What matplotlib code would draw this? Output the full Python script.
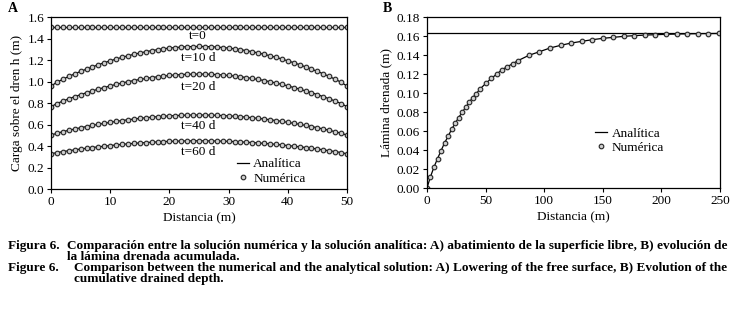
import numpy as np
import matplotlib
matplotlib.use("Agg")
import matplotlib.pyplot as plt

plt.rcParams['font.family'] = ['Liberation Serif', 'DejaVu Serif']

# ===================================
# 1. Datos panel A (carga sobre el dren)
# ===================================
dist_a = list(range(0, 51))

h_t0 = [1.503] * 51

h_t10 = [0.958, 0.993, 1.021, 1.047, 1.071, 1.094, 1.115, 1.136, 1.156, 1.175,
         1.192, 1.209, 1.225, 1.239, 1.253, 1.265, 1.277, 1.287, 1.296, 1.304,
         1.311, 1.316, 1.320, 1.324, 1.325, 1.326, 1.325, 1.324, 1.320, 1.316,
         1.311, 1.304, 1.296, 1.287, 1.277, 1.265, 1.253, 1.239, 1.225, 1.209,
         1.192, 1.175, 1.156, 1.136, 1.115, 1.094, 1.071, 1.047, 1.021, 0.993,
         0.958]

h_t20 = [0.766, 0.795, 0.818, 0.839, 0.859, 0.878, 0.896, 0.913, 0.929, 0.944,
         0.959, 0.973, 0.986, 0.998, 1.009, 1.019, 1.028, 1.037, 1.044, 1.051,
         1.056, 1.061, 1.064, 1.067, 1.068, 1.069, 1.068, 1.067, 1.064, 1.061,
         1.056, 1.051, 1.044, 1.037, 1.028, 1.019, 1.009, 0.998, 0.986, 0.973,
         0.959, 0.944, 0.929, 0.913, 0.896, 0.878, 0.859, 0.839, 0.818, 0.795,
         0.766]

h_t40 = [0.501, 0.519, 0.533, 0.546, 0.558, 0.570, 0.581, 0.592, 0.602, 0.611,
         0.620, 0.629, 0.637, 0.644, 0.651, 0.657, 0.663, 0.668, 0.673, 0.677,
         0.680, 0.683, 0.685, 0.687, 0.688, 0.688, 0.688, 0.687, 0.685, 0.683,
         0.680, 0.677, 0.673, 0.668, 0.663, 0.657, 0.651, 0.644, 0.637, 0.629,
         0.620, 0.611, 0.602, 0.592, 0.581, 0.570, 0.558, 0.546, 0.533, 0.519,
         0.501]

h_t60 = [0.327, 0.339, 0.348, 0.356, 0.364, 0.372, 0.379, 0.386, 0.392, 0.398,
         0.404, 0.410, 0.415, 0.420, 0.424, 0.428, 0.432, 0.435, 0.438, 0.441,
         0.443, 0.445, 0.446, 0.447, 0.448, 0.448, 0.448, 0.447, 0.446, 0.445,
         0.443, 0.441, 0.438, 0.435, 0.432, 0.428, 0.424, 0.420, 0.415, 0.410,
         0.404, 0.398, 0.392, 0.386, 0.379, 0.372, 0.364, 0.356, 0.348, 0.339,
         0.327]

curvas_a = [h_t0, h_t10, h_t20, h_t40, h_t60]
etiquetas_t = ["t=0", "t=10 d", "t=20 d", "t=40 d", "t=60 d"]
pos_etiq_y = [1.42, 1.215, 0.946, 0.586, 0.341]

# ===================================
# 2. Datos panel B (lámina drenada)
# ===================================
dist_b = [0, 3, 6, 9, 12, 15, 18, 21, 24, 27, 30, 33, 36, 39, 42, 45.5, 50.5,
          55, 59.5, 64, 68.5, 73, 77.5, 87, 96, 105, 114, 123, 132, 141, 150,
          159, 168, 177, 186, 195, 204, 213, 222, 231, 240, 249]
lamina = [0.0, 0.0119, 0.0221, 0.0309, 0.0393, 0.0474, 0.0544, 0.0617, 0.0681,
          0.0740, 0.0797, 0.0849, 0.0902, 0.0951, 0.0993, 0.1045, 0.1105,
          0.1154, 0.1200, 0.1245, 0.1277, 0.1308, 0.1340, 0.1397, 0.1435,
          0.1474, 0.1502, 0.1526, 0.1544, 0.1561, 0.1576, 0.1586, 0.1597,
          0.1604, 0.1610, 0.1614, 0.1618, 0.1621, 0.1623, 0.1625, 0.1626,
          0.1627]
lamina_max = 0.1628

# ===================================
# 3. Figura
# ===================================
fig = plt.figure(figsize=(7.33, 3.12), dpi=100)
axA = fig.add_axes([0.0696, 0.3942, 0.4038, 0.5513])
axB = fig.add_axes([0.5825, 0.3974, 0.3997, 0.548])

fs = 9.5
mk = dict(marker='o', linestyle='none', markersize=3.3, markerfacecolor='#cfcfcf',
          markeredgecolor='#2a2a2a', markeredgewidth=0.85)

# --- Panel A ---
for h in curvas_a:
    axA.plot(dist_a, h, color='black', linewidth=0.9)
    axA.plot(dist_a, h, **mk)
for lab, yy in zip(etiquetas_t, pos_etiq_y):
    axA.text(24.8, yy, lab, ha='center', va='center', fontsize=fs)

axA.plot([], [], color='black', linewidth=0.9, label='Analítica')
axA.plot([], [], **mk, label='Numérica')
axA.legend(loc='lower right', bbox_to_anchor=(0.86, 0.025), frameon=False,
           fontsize=fs, handlelength=0.9, handletextpad=0.35, borderpad=0,
           labelspacing=0.15, borderaxespad=0)

axA.set_xlim(0, 50)
axA.set_ylim(0, 1.6)
axA.set_xticks(np.arange(0, 51, 10))
axA.set_yticks(np.arange(0, 1.61, 0.2))
axA.set_yticklabels([f"{v:.1f}" for v in np.arange(0, 1.61, 0.2)])
axA.set_xlabel("Distancia (m)", fontsize=fs, labelpad=3)
axA.set_ylabel("Carga sobre el dren h (m)", fontsize=fs, labelpad=3)

# --- Panel B ---
axB.axhline(lamina_max, color='black', linewidth=0.9)
axB.plot(dist_b, lamina, color='black', linewidth=0.9)
axB.plot(dist_b, lamina, **mk)
axB.plot([], [], color='black', linewidth=0.9, label='Analítica')
axB.plot([], [], **mk, label='Numérica')
axB.legend(loc='lower right', bbox_to_anchor=(0.81, 0.2), frameon=False,
           fontsize=fs, handlelength=0.9, handletextpad=0.35, borderpad=0,
           labelspacing=0.15, borderaxespad=0)

axB.set_xlim(0, 250)
axB.set_ylim(0, 0.18)
axB.set_xticks(np.arange(0, 251, 50))
axB.set_yticks(np.arange(0, 0.181, 0.02))
axB.set_yticklabels([f"{v:.2f}" for v in np.arange(0, 0.181, 0.02)])
axB.set_xlabel("Distancia (m)", fontsize=fs, labelpad=3)
axB.set_ylabel("Lámina drenada (m)", fontsize=fs, labelpad=3)

for ax in (axA, axB):
    ax.tick_params(direction='out', length=3, width=0.8, labelsize=fs, pad=2)
    for s in ax.spines.values():
        s.set_linewidth(0.9)

fig.text(8 / 733, 1 - 9 / 312, "A", fontsize=10, fontweight='bold', va='center')
fig.text(383 / 733, 1 - 9 / 312, "B", fontsize=10, fontweight='bold', va='center')

# ===================================
# 4. Pie de figura
# ===================================
cfs = 9.5
fig.text(8 / 733, 1 - 246 / 312, "Figura 6.", fontsize=cfs, fontweight='bold', va='center')
fig.text(67 / 733, 1 - 246 / 312,
         "Comparación entre la solución numérica y la solución analítica: "
         "A) abatimiento de la superficie libre, B) evolución de",
         fontsize=cfs, fontweight='bold', va='center')
fig.text(67 / 733, 1 - 257 / 312, "la lámina drenada acumulada.",
         fontsize=cfs, fontweight='bold', va='center')
fig.text(8 / 733, 1 - 268 / 312, "Figure 6.", fontsize=cfs, fontweight='bold', va='center')
fig.text(74 / 733, 1 - 268 / 312,
         "Comparison between the numerical and the analytical solution: "
         "A) Lowering of the free surface, B) Evolution of the",
         fontsize=cfs, fontweight='bold', va='center')
fig.text(74 / 733, 1 - 279 / 312, "cumulative drained depth.",
         fontsize=cfs, fontweight='bold', va='center')

fig.savefig("out.png", dpi=100)
